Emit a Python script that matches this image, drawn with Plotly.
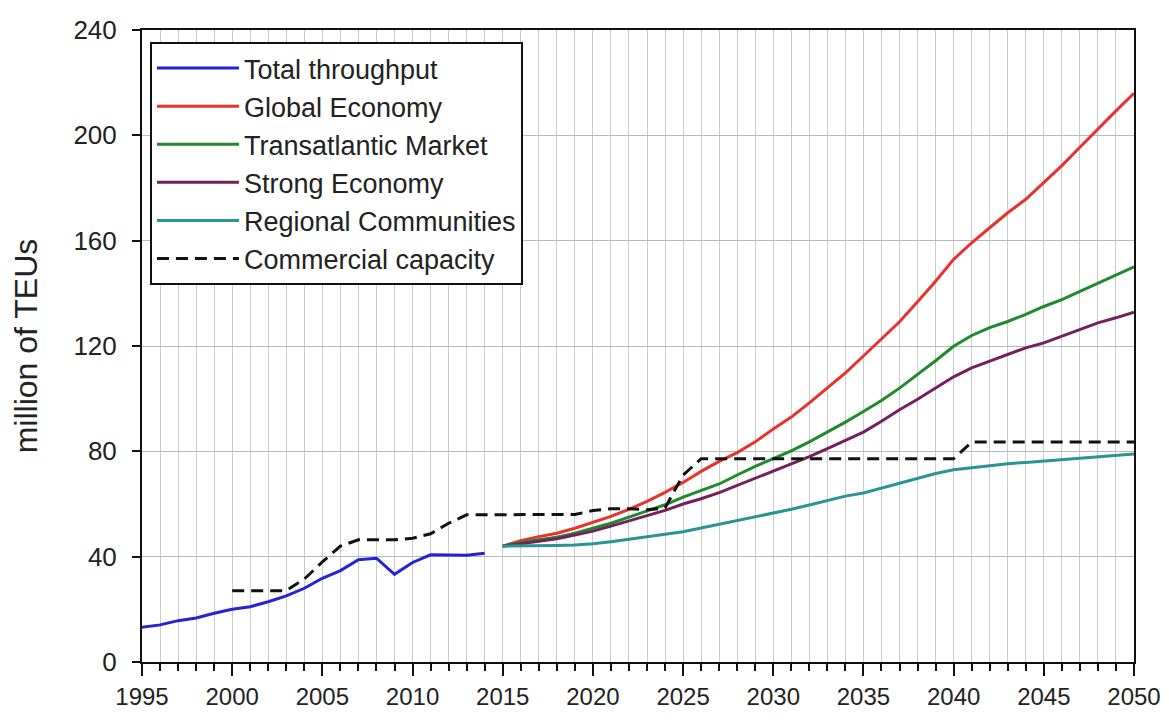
import plotly.graph_objects as go

# ---------------- data ----------------
hist_years = list(range(1995, 2015))
total_throughput = [13.2, 14.1, 15.7, 16.7, 18.5, 20.0, 21.0, 22.9, 25.1, 28.0,
                    31.8, 34.7, 38.8, 39.4, 33.3, 37.8, 40.7, 40.6, 40.5, 41.3]

cap_years = list(range(2000, 2051))
commercial_capacity = [27.1, 27.1, 27.1, 27.1, 31.5, 38.0, 44.0, 46.4, 46.4, 46.4,
                       47.0, 48.7, 52.7, 55.9, 55.9, 56.0, 56.0, 56.0, 56.0, 56.0,
                       57.5, 58.2, 58.2, 57.8, 58.5, 71.0, 77.2, 77.2, 77.2, 77.2,
                       77.2, 77.2, 77.2, 77.2, 77.2, 77.2, 77.2, 77.2, 77.2, 77.2,
                       77.2, 83.5, 83.5, 83.5, 83.5, 83.5, 83.5, 83.5, 83.5, 83.5,
                       83.5]

fc_years = list(range(2015, 2051))
global_economy = [44.0, 46.1, 47.6, 48.9, 50.8, 53.0, 55.3, 58.0, 61.0, 64.4,
                  68.2, 72.4, 76.2, 79.5, 83.6, 88.5, 93.0, 98.4, 104.1, 109.8,
                  116.2, 122.8, 129.2, 136.8, 144.6, 152.9, 159.2, 164.9, 170.6, 175.7,
                  182.0, 188.5, 195.5, 202.5, 209.3, 216.0]
transatlantic_market = [44.0, 45.4, 46.4, 47.4, 48.9, 50.8, 52.7, 55.0, 57.2, 59.7,
                        62.6, 65.0, 67.6, 71.0, 74.3, 77.2, 80.2, 83.6, 87.3, 91.1,
                        95.1, 99.3, 104.0, 109.1, 114.4, 119.9, 124.0, 127.0, 129.3, 132.0,
                        135.0, 137.6, 140.8, 144.0, 147.1, 150.1]
strong_economy = [44.0, 45.0, 45.8, 46.8, 48.2, 49.7, 51.6, 53.6, 55.7, 57.6,
                  60.0, 62.0, 64.3, 67.0, 69.8, 72.5, 75.0, 78.0, 81.0, 84.0,
                  87.3, 91.4, 95.8, 99.8, 104.2, 108.3, 111.7, 114.2, 116.7, 119.3,
                  121.2, 123.7, 126.2, 128.8, 130.7, 132.8]
regional_communities = [44.0, 44.0, 44.1, 44.2, 44.4, 44.9, 45.7, 46.7, 47.7, 48.6,
                        49.5, 50.9, 52.3, 53.8, 55.2, 56.7, 58.0, 59.6, 61.4, 63.0,
                        64.2, 66.0, 67.8, 69.8, 71.6, 73.0, 73.8, 74.6, 75.3, 75.8,
                        76.3, 77.0, 77.4, 77.9, 78.4, 79.0]

series_names = ["Total throughput", "Global Economy", "Transatlantic Market",
                "Strong Economy", "Regional Communities", "Commercial capacity"]
series_colors = ["#2323d6", "#e8322c", "#1f8a2c", "#74205e", "#2a9494", "#111111"]

y_ticks = [0, 40, 80, 120, 160, 200, 240]
x_ticks = [1995, 2000, 2005, 2010, 2015, 2020, 2025, 2030, 2035, 2040, 2045, 2050]

# ---------------- figure ----------------
FONT = "Liberation Sans, Arial, sans-serif"

fig = go.Figure()
series = [
    (hist_years, total_throughput),
    (fc_years, global_economy),
    (fc_years, transatlantic_market),
    (fc_years, strong_economy),
    (fc_years, regional_communities),
    (cap_years, commercial_capacity),
]
for (xs, ys), name, col in zip(series, series_names, series_colors):
    fig.add_trace(go.Scatter(
        x=xs, y=ys, name=name, mode="lines",
        line=dict(color=col, width=3,
                  dash="12px,7px" if name == "Commercial capacity" else "solid"),
    ))

# the page body adds an 8px offset, so the figure is sized to fit the window
fig.update_layout(
    width=1161, height=712,
    margin=dict(l=134, r=35, t=22, b=58),
    paper_bgcolor="white", plot_bgcolor="white",
    font=dict(family=FONT, size=24, color="#222222"),
    showlegend=True,
    legend=dict(
        x=0.008, y=0.981, xanchor="left", yanchor="top",
        bgcolor="white", bordercolor="#111111", borderwidth=2,
        font=dict(family=FONT, size=27, color="#222222"),
        itemwidth=82, tracegroupgap=0,
    ),
)
fig.update_xaxes(
    range=[1995, 2050], tickmode="array", tickvals=x_ticks,
    ticks="outside", ticklen=12, tickwidth=2, tickcolor="#111111",
    showline=True, linecolor="#111111", linewidth=2, mirror=True,
    showgrid=True, gridcolor="#cccccc", gridwidth=1,
    zeroline=False, automargin=False,
    minor=dict(dtick=1, tick0=1995, ticks="outside", ticklen=7, tickwidth=2,
               tickcolor="#111111", showgrid=True, gridcolor="#cccccc", gridwidth=1),
    tickfont=dict(family=FONT, size=24, color="#222222"),
)
fig.update_yaxes(
    range=[0, 240], tickmode="array", tickvals=y_ticks,
    ticks="outside", ticklen=8, tickwidth=2, tickcolor="#111111",
    showline=True, linecolor="#111111", linewidth=2, mirror=True,
    showgrid=True, gridcolor="#b8b8b8", gridwidth=1,
    zeroline=False, automargin=False,
    ticklabelstandoff=10,
    tickfont=dict(family=FONT, size=26, color="#222222"),
    title=dict(text="million of TEUs", standoff=28,
               font=dict(family=FONT, size=32, color="#222222")),
)

fig.write_html("out.html")
